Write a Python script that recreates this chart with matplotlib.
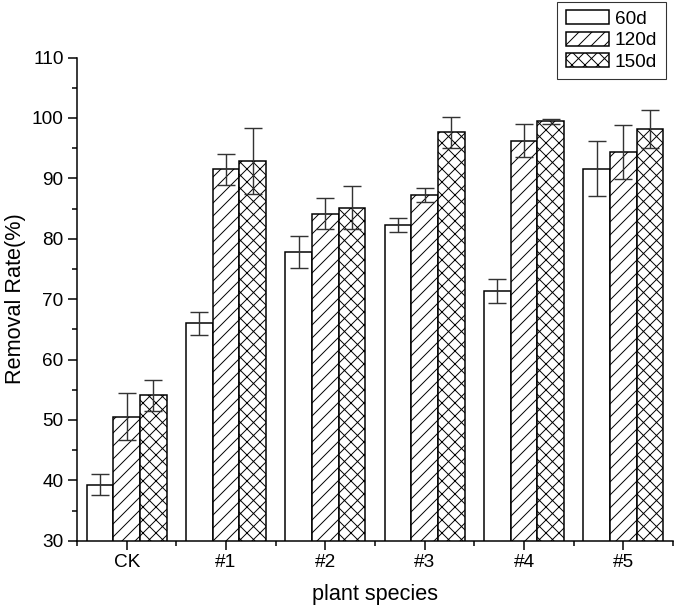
import matplotlib
matplotlib.use("Agg")
import matplotlib.pyplot as plt
import numpy as np
from matplotlib.ticker import MultipleLocator, FixedLocator

plt.rcParams['font.family'] = ['Liberation Sans', 'DejaVu Sans']
plt.rcParams['hatch.linewidth'] = 0.9

species = ['CK', '#1', '#2', '#3', '#4', '#5']
labels = ['60d', '120d', '150d']
d60 = [39.3, 66.0, 77.8, 82.3, 71.3, 91.6]
e60 = [1.7, 1.9, 2.65, 1.2, 2.0, 4.5]
d120 = [50.5, 91.5, 84.15, 87.3, 96.25, 94.3]
e120 = [3.9, 2.6, 2.6, 1.15, 2.7, 4.45]
d150 = [54.05, 92.9, 85.15, 97.6, 99.45, 98.2]
e150 = [2.6, 5.5, 3.6, 2.5, 0.45, 3.1]

DPI = 78
fig = plt.figure(figsize=(676 / DPI, 610 / DPI), dpi=DPI)
ax = fig.add_axes([0.114, 0.1136, 0.8815, 0.7921])

x = np.arange(len(species))
w = 0.268
series = [(d60, e60, ''), (d120, e120, '//'), (d150, e150, 'xx')]
for i, (vals, errs, hatch) in enumerate(series):
    pos = x + (i - 1) * w
    ax.bar(pos, vals, w, color='white', edgecolor='black', linewidth=1.4,
           hatch=hatch, label=labels[i], zorder=2)
    ax.errorbar(pos, vals, yerr=errs, fmt='none', ecolor='#333333',
                elinewidth=1.3, capsize=8.5, capthick=1.3, zorder=3)

ax.set_xlim(-0.5, 5.5)
ax.set_ylim(30, 110)
ax.set_xticks(x)
ax.set_xticklabels(species)
ax.xaxis.set_minor_locator(FixedLocator(np.arange(-0.5, 6.0, 1.0)))
ax.yaxis.set_major_locator(MultipleLocator(10))
ax.yaxis.set_minor_locator(MultipleLocator(5))

for s in ['top', 'right']:
    ax.spines[s].set_visible(False)
for s in ['left', 'bottom']:
    ax.spines[s].set_linewidth(1.4)

ax.tick_params(which='major', direction='out', length=8.5, width=1.4,
               labelsize=17.5, pad=4)
ax.tick_params(which='minor', direction='out', length=4.5, width=1.4)

ax.set_xlabel('plant species', fontsize=20, labelpad=12)
ax.set_ylabel('Removal Rate(%)', fontsize=20, labelpad=5)

leg = fig.legend(loc='upper right', bbox_to_anchor=(0.985, 0.997),
                 borderaxespad=0, fontsize=17.5, frameon=True, fancybox=False,
                 edgecolor='black', handlelength=2.3, handleheight=0.75,
                 handletextpad=0.3, labelspacing=0.2, borderpad=0.45)
leg.get_frame().set_linewidth(1.0)

fig.savefig('out.png', dpi=DPI)
